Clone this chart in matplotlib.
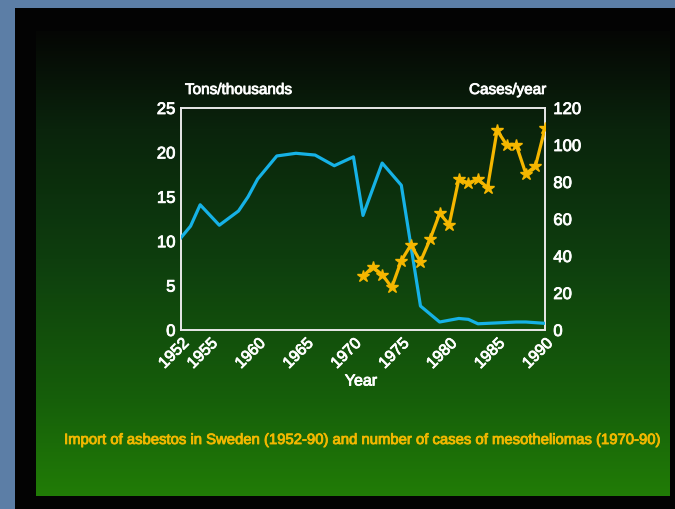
import numpy as np
import matplotlib
matplotlib.use("Agg")
import matplotlib.pyplot as plt
import matplotlib.patheffects as pe

# ---- data ----
import_years = [1952, 1953, 1954, 1956, 1958, 1959, 1960, 1962, 1964, 1966, 1968,
                1970, 1971, 1973, 1975, 1977, 1979, 1980, 1981, 1982, 1983, 1984,
                1986, 1987, 1988, 1990]
import_tons = [10.4, 11.7, 14.1, 11.8, 13.4, 15.0, 17.0, 19.6, 19.9, 19.7, 18.5,
               19.5, 12.9, 18.8, 16.3, 2.7, 0.9, 1.1, 1.3, 1.2, 0.7, 0.75,
               0.85, 0.9, 0.9, 0.75]
case_years = list(range(1971, 1991))
cases = [29, 34, 30, 23, 37.5, 46, 37, 49, 63, 57, 81.5, 79.5, 81.5, 77,
         108, 100, 100, 84.5, 88.5, 109]
xticks = [1952, 1955, 1960, 1965, 1970, 1975, 1980, 1985, 1990]
left_ticks = [0, 5, 10, 15, 20, 25]
right_ticks = [0, 20, 40, 60, 80, 100, 120]

W, H = 675, 510
FONT = ['Liberation Sans Narrow', 'Liberation Sans', 'DejaVu Sans']
plt.rcParams['font.family'] = FONT

fig = plt.figure(figsize=(W / 100, H / 100), dpi=100)

# ---- background (slide) ----
img = np.zeros((H, W, 3))
img[:, :] = np.array([92, 126, 166]) / 255.0
img[9:, 15:] = np.array([3, 3, 3]) / 255.0
stops_y = np.array([32, 130, 260, 400, 496])
stops_c = np.array([[5, 6, 4], [10, 36, 12], [14, 62, 14], [22, 95, 10], [33, 124, 6]]) / 255.0
ys = np.arange(32, 497)
grad = np.stack([np.interp(ys, stops_y, stops_c[:, k]) for k in range(3)], axis=1)
img[32:497, 36:670] = grad[:, None, :]
bg = fig.add_axes([0, 0, 1, 1])
bg.imshow(img, aspect='auto', interpolation='bilinear')
bg.axis('off')

white_fx = [pe.withStroke(linewidth=0.6, foreground='white')]
yellow_fx = [pe.withStroke(linewidth=0.6, foreground='#f2b800')]

# ---- main axes ----
x0, x1, y0, y1 = 181, 545, 109, 331
ax = fig.add_axes([x0 / W, 1 - y1 / H, (x1 - x0) / W, (y1 - y0) / H])
ax.patch.set_alpha(0)
ax.plot(import_years, import_tons, color='#16b2e6', lw=2.3, zorder=3)
ax.set_xlim(1952, 1990)
ax.set_ylim(0, 25)
ax.set_yticks(left_ticks)
ax.set_xticks(xticks)
ax.set_xticklabels([str(t) for t in xticks], rotation=45, ha='right',
                   rotation_mode='anchor')
ax.tick_params(colors='white', length=0, labelsize=12, pad=4)
ax.tick_params(axis='x', labelsize=11.5, pad=4)
for s in ax.spines.values():
    s.set_color('#e8e8e8')
    s.set_linewidth(1.4)

ax2 = ax.twinx()
ax2.plot(case_years, cases, color='#f5b700', lw=2.3, marker='*', ms=9,
         mec='#f5b700', mfc='#f5b700', zorder=3)
ax2.set_ylim(0, 120)
ax2.set_yticks(right_ticks)
ax2.tick_params(colors='white', length=0, labelsize=12, pad=6)
for s in ax2.spines.values():
    s.set_visible(False)

for lbl in ax.get_xticklabels() + ax.get_yticklabels() + ax2.get_yticklabels():
    lbl.set_path_effects(white_fx)

fig.text(185 / W, 1 - 91 / H, 'Tons/thousands', color='white', fontsize=11,
         ha='left', va='center', path_effects=white_fx)
fig.text(546 / W, 1 - 91 / H, 'Cases/year', color='white', fontsize=11,
         ha='right', va='center', path_effects=white_fx)
fig.text(361 / W, 1 - 382 / H, 'Year', color='white', fontsize=11.5,
         ha='center', va='center', path_effects=white_fx)
fig.text(363 / W, 1 - 441 / H,
         'Import of asbestos in Sweden (1952-90) and number of cases of mesotheliomas (1970-90)',
         color='#f2b800', fontsize=10.7, ha='center', va='center',
         path_effects=yellow_fx)

fig.savefig('out.png', dpi=100)
